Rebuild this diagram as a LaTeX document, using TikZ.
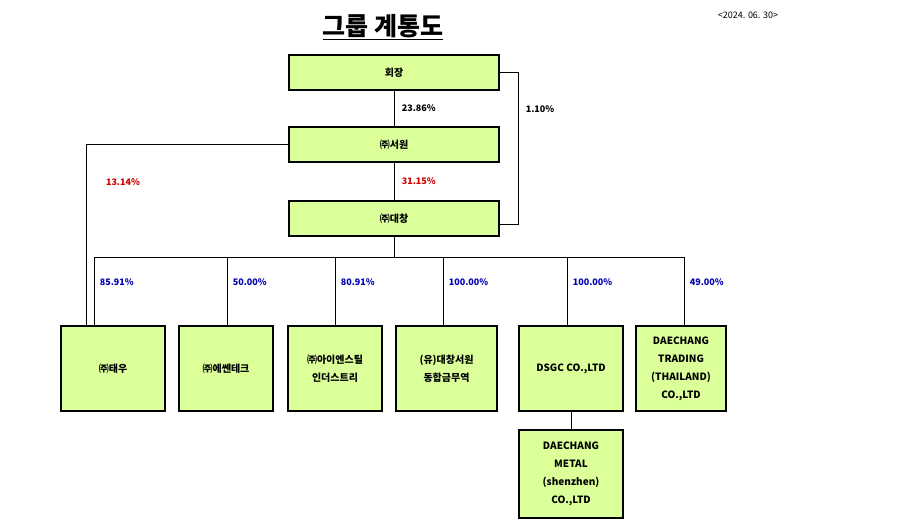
\documentclass[tikz,border=0pt]{standalone}
\usepackage{fontspec}
\setmainfont{Noto Sans CJK KR}
\tikzset{
    BX/.style ={rectangle,draw,line width=1.2pt,fill=green!35!yellow!40,align=center,font=\fontsize{10}{18}\selectfont\bfseries,inner sep=1pt},
    TOP/.style ={BX,minimum width=210pt, minimum height=35pt},
    SUB/.style ={BX,minimum height=85pt},
    PK/.style ={font=\fontsize{9}{11}\selectfont\bfseries}}
\begin{document}
\begin{tikzpicture}[x=1pt,y=-1pt,line width=1pt]
        \useasboundingbox (0,0) rectangle (902,531);
        \node[font=\fontsize{25}{30}\selectfont\bfseries] (t) at(383,27){\underline{그룹 계통도}};
        \node[font=\fontsize{9}{11}\selectfont] (d) at(748,15){<2024. 06. 30>};
        \node[TOP] (1) at(394,72.5){회장};
        \node[TOP] (2) at(394,144.5){㈜서원};
        \node[TOP] (3) at(394,218.5){㈜대창};
        \node[SUB,minimum width=104pt] (4) at(113,368.5){㈜태우};
        \node[SUB,minimum width=94pt] (5) at(226,368.5){㈜에쎈테크};
        \node[SUB,minimum width=94pt] (6) at(335,368.5){㈜아이엔스틸\\인더스트리};
        \node[SUB,minimum width=101pt] (7) at(446.5,368.5){(유)대창서원\\동합금무역};
        \node[SUB,minimum width=104pt] (8) at(571,368.5){DSGC CO.,LTD};
        \node[SUB,minimum width=90pt] (9) at(681,368.5){DAECHANG\\TRADING\\(THAILAND)\\CO.,LTD};
        \node[BX,minimum width=104pt,minimum height=88pt] (10) at(571,474){DAECHANG\\METAL\\(shenzhen)\\CO.,LTD};
        \coordinate (bus) at(394,257);
        \draw (1) --(2) node[PK,midway,right=4pt]{23.86\%};
        \draw (2) --(3) node[PK,midway,right=4pt,red!80!black]{31.15\%};
        \draw (1.east) -|(518,224) --(3.east|-0,224);
        \node[PK] at(540,109){1.10\%};
        \draw (2.west) -|(86,326);
        \node[PK,red!80!black] at(123,182){13.14\%};
        \draw (3) --(bus);
        \draw (94,257) --(684,257);
        \foreach \n/\x/\p in {4/94/85.91,5/227/50.00,6/335/80.91,7/443/100.00,8/567/100.00,9/684/49.00}
            \draw (\x,257) --(\x,326) node[PK,pos=0.37,right=2pt,blue!70!black]{\p\%};
        \draw (8) --(10);
    \end{tikzpicture}
\end{document}
